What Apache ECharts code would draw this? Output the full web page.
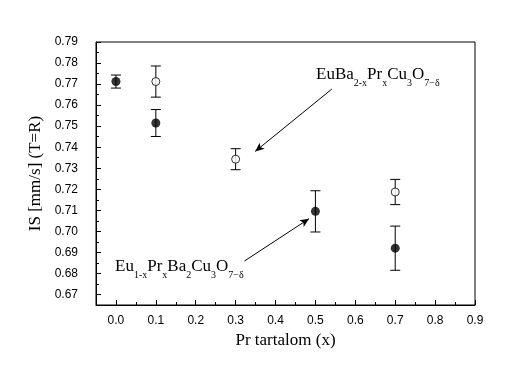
<!DOCTYPE html>
<html><head><meta charset="utf-8">
<script src="https://cdn.jsdelivr.net/npm/echarts@6/dist/echarts.min.js"></script>
<style>html,body{margin:0;padding:0;background:#fff}#c{width:517px;height:391px}</style>
</head><body><div id="c"></div>
<script>
// Eu1-xPrxBa2Cu3O7-δ (filled)
const filledX = [0.0, 0.1, 0.5, 0.7];
const filledY = [0.7712, 0.7515, 0.7095, 0.6920];
const filledErr = [0.0031, 0.0064, 0.0098, 0.0105];
// EuBa2-xPrxCu3O7-δ (open)
const openX = [0.1, 0.3, 0.7];
const openY = [0.7712, 0.7343, 0.7187];
const openErr = [0.0074, 0.0050, 0.0060];

const xTicks = [0.0,0.1,0.2,0.3,0.4,0.5,0.6,0.7,0.8,0.9];
const xMinor = [-0.05,0.05,0.15,0.25,0.35,0.45,0.55,0.65,0.75,0.85];
const yTicks = [0.67,0.68,0.69,0.70,0.71,0.72,0.73,0.74,0.75,0.76,0.77,0.78,0.79];
const yMinor = [0.665,0.675,0.685,0.695,0.705,0.715,0.725,0.735,0.745,0.755,0.765,0.775,0.785];

// arrows in data coordinates [start, end]
const arrow1 = [[0.541, 0.7676], [0.349, 0.7380]];
const arrow2 = [[0.322, 0.6859], [0.484, 0.7060]];

const labelFont = '"Liberation Sans Narrow", "Liberation Sans", Arial, sans-serif';
const serif = '"Liberation Serif", "Times New Roman", serif';

function errData(xs, ys, es){ return xs.map((x,i)=>[x, ys[i]-es[i], ys[i]+es[i]]); }
function errRender(params, api){
  const x = api.value(0), lo = api.value(1), hi = api.value(2);
  const p1 = api.coord([x, hi]), p2 = api.coord([x, lo]);
  const w = 5;
  const st = {stroke:'#000', lineWidth:1};
  return {type:'group', children:[
    {type:'line', shape:{x1:p1[0],y1:p1[1],x2:p2[0],y2:p2[1]}, style:st},
    {type:'line', shape:{x1:p1[0]-w,y1:p1[1],x2:p1[0]+w,y2:p1[1]}, style:st},
    {type:'line', shape:{x1:p2[0]-w,y1:p2[1],x2:p2[0]+w,y2:p2[1]}, style:st}
  ]};
}

const chart = echarts.init(document.getElementById('c'), null, {renderer:'canvas'});
const grid = {left:96, right:42, top:42, bottom:86, show:true, borderColor:'#000', borderWidth:1, backgroundColor:'#fff'};
const rich = {
  m:{fontFamily:serif, fontSize:17, color:'#000', lineHeight:20, verticalAlign:'bottom'},
  s:{fontFamily:serif, fontSize:10, color:'#000', lineHeight:20, verticalAlign:'bottom', padding:[0,0,-5,0]}
};
chart.setOption({
  animation:false,
  backgroundColor:'#fff',
  grid: grid,
  xAxis:[{
    type:'value', min:-0.05, max:0.9, gridIndex:0,
    name:'Pr tartalom (x)', nameLocation:'middle', nameGap:26,
    nameTextStyle:{fontFamily:serif, fontSize:17, color:'#000'},
    axisLine:{show:true, onZero:false, lineStyle:{color:'#000', width:1}},
    axisTick:{show:true, inside:true, length:5, customValues:xTicks, lineStyle:{color:'#000'}},
    axisLabel:{customValues:xTicks, margin:10, fontFamily:labelFont, fontSize:12, color:'#000', formatter:v=>v.toFixed(1)},
    splitLine:{show:false}
  },{
    type:'value', min:-0.05, max:0.9, gridIndex:0, position:'bottom',
    axisLine:{show:false, onZero:false}, axisLabel:{show:false}, splitLine:{show:false},
    axisTick:{show:true, inside:true, length:3, customValues:xMinor, lineStyle:{color:'#000'}}
  }],
  yAxis:[{
    type:'value', min:0.665, max:0.79, gridIndex:0,
    name:'IS [mm/s] (T=R)', nameLocation:'middle', nameGap:46, nameRotate:90,
    nameTextStyle:{fontFamily:serif, fontSize:17, color:'#000'},
    axisLine:{show:true, onZero:false, lineStyle:{color:'#000', width:1}},
    axisTick:{show:true, inside:true, length:5, customValues:yTicks, lineStyle:{color:'#000'}},
    axisLabel:{customValues:yTicks, margin:18, fontFamily:labelFont, fontSize:12, color:'#000', formatter:v=>v.toFixed(2)},
    splitLine:{show:false}
  },{
    type:'value', min:0.665, max:0.79, gridIndex:0, position:'left',
    axisLine:{show:false, onZero:false}, axisLabel:{show:false}, splitLine:{show:false},
    axisTick:{show:true, inside:true, length:3, customValues:yMinor, lineStyle:{color:'#000'}}
  }],
  series:[
    {type:'custom', name:'errFilled', renderItem:errRender, data:errData(filledX, filledY, filledErr), encode:{x:0, y:[1,2]}, z:2},
    {type:'custom', name:'errOpen', renderItem:errRender, data:errData(openX, openY, openErr), encode:{x:0, y:[1,2]}, z:2},
    {type:'scatter', name:'Eu1-xPrxBa2Cu3O7-δ', data:filledX.map((x,i)=>[x, filledY[i]]), symbol:'circle', symbolSize:9,
      itemStyle:{color:'#000'}, z:3,
      markLine:{silent:true, symbol:['none','arrow'], symbolSize:[6,9], lineStyle:{color:'#000', width:1, type:'solid'}, label:{show:false},
        data:[[{coord:arrow2[0]},{coord:arrow2[1]}]]}},
    {type:'scatter', name:'EuBa2-xPrxCu3O7-δ', data:openX.map((x,i)=>[x, openY[i]]), symbol:'circle', symbolSize:8,
      itemStyle:{color:'#fff', borderColor:'#000', borderWidth:1}, z:3,
      markLine:{silent:true, symbol:['none','arrow'], symbolSize:[6,9], lineStyle:{color:'#000', width:1, type:'solid'}, label:{show:false},
        data:[[{coord:arrow1[0]},{coord:arrow1[1]}]]}}
  ],
  graphic:[
    {type:'text', left:316, top:66, style:{text:'{m|EuBa}{s|2-x}{m|Pr}{s|x}{m|Cu}{s|3}{m|O}{s|7−δ}', rich:rich}},
    {type:'text', left:115, top:258, style:{text:'{m|Eu}{s|1-x}{m|Pr}{s|x}{m|Ba}{s|2}{m|Cu}{s|3}{m|O}{s|7−δ}', rich:rich}}
  ]
});
</script></body></html>
